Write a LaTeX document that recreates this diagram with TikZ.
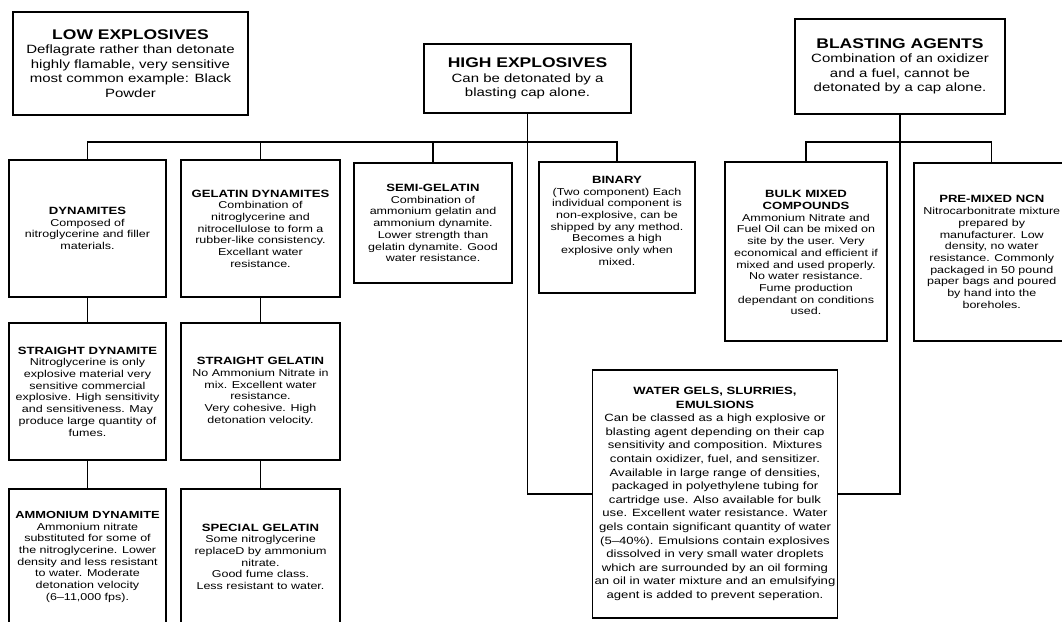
\documentclass[tikz,border=0pt]{standalone}
\usepackage{fontspec}
\setmainfont{Liberation Sans}[FakeStretch=1.25]
\usepackage{tikz}
\tikzstyle{box}=[draw,line width=1.5pt,align=center,inner sep=2pt]
\tikzstyle{bigbox}=[box,font=\fontsize{12}{14.5}\selectfont]
\tikzstyle{smallbox}=[box,font=\fontsize{10}{11.7}\selectfont]
\tikzstyle{line}=[black,line width=1.4pt]

\begin{document}
\begin{tikzpicture}[x=1pt,y=-1pt]
	\useasboundingbox (0,0) rectangle (1062,621);

	% top row
	\node[bigbox,minimum width=235pt,minimum height=103pt] (low) at (130.5,63.5)
		{{\bfseries\fontsize{14}{16}\selectfont LOW EXPLOSIVES}\\
		Deflagrate rather than detonate\\
		highly flamable, very sensitive\\
		most common example:  Black\\
		Powder};
	\node[bigbox,minimum width=207pt,minimum height=69pt] (high) at (527.5,78.5)
		{{\bfseries\fontsize{14}{16}\selectfont HIGH EXPLOSIVES}\\
		Can be detonated by a\\
		blasting cap alone.};
	\node[bigbox,minimum width=210pt,minimum height=95pt] (blast) at (900,66.5)
		{{\bfseries\fontsize{14}{16}\selectfont BLASTING AGENTS}\\
		Combination of an oxidizer\\
		and a fuel, cannot be\\
		detonated by a cap alone.};

	% high explosives
	\node[smallbox,minimum width=157pt,minimum height=137pt] (dyn) at (87.5,228.5)
		{{\bfseries\fontsize{10.5}{11.7}\selectfont DYNAMITES}\\
		Composed of\\
		nitroglycerine and filler\\
		materials.};
	\node[smallbox,minimum width=159pt,minimum height=137pt] (geldyn) at (260.5,228.5)
		{{\bfseries\fontsize{10.5}{11.7}\selectfont GELATIN DYNAMITES}\\
		Combination of\\
		nitroglycerine and\\
		nitrocellulose to form a\\
		rubber-like consistency.\\
		Excellant water\\
		resistance.};
	\node[smallbox,minimum width=158pt,minimum height=120pt] (semi) at (433,223)
		{{\bfseries\fontsize{10.5}{11.7}\selectfont SEMI-GELATIN}\\
		Combination of\\
		ammonium gelatin and\\
		ammonium dynamite.\\
		Lower strength than\\
		gelatin dynamite.  Good\\
		water resistance.};
	\node[smallbox,minimum width=156pt,minimum height=131pt] (binary) at (617,227.5)
		{{\bfseries\fontsize{10.5}{11.7}\selectfont BINARY}\\
		(Two component)  Each\\
		individual component is\\
		non-explosive, can be\\
		shipped by any method.\\
		Becomes a high\\
		explosive only when\\
		mixed.\\[2pt]};

	\node[smallbox,minimum width=157pt,minimum height=137pt] (strdyn) at (87.5,391.5)
		{{\bfseries\fontsize{10.5}{11.7}\selectfont STRAIGHT DYNAMITE}\\
		Nitroglycerine is only\\
		explosive material very\\
		sensitive commercial\\
		explosive.  High sensitivity\\
		and sensitiveness.  May\\
		produce large quantity of\\
		fumes.};
	\node[smallbox,minimum width=159pt,minimum height=137pt] (strgel) at (260.5,391.5)
		{{\bfseries\fontsize{10.5}{11.7}\selectfont STRAIGHT GELATIN}\\
		No Ammonium Nitrate in\\
		mix.  Excellent water\\
		resistance.\\
		Very cohesive.  High\\
		detonation velocity.};
	\node[smallbox,anchor=north,minimum width=157pt,minimum height=136pt] (ammdyn) at (87.5,488)
		{{\bfseries\fontsize{10.3}{11.7}\selectfont AMMONIUM DYNAMITE}\\
		Ammonium nitrate\\
		substituted for some of\\
		the nitroglycerine.  Lower\\
		density and less resistant\\
		to water.  Moderate\\
		detonation velocity\\
		(6--11,000 fps).};
	\node[smallbox,anchor=north,minimum width=159pt,minimum height=136pt] (specgel) at (260.5,488)
		{{\bfseries\fontsize{10.5}{11.7}\selectfont SPECIAL GELATIN}\\
		Some nitroglycerine\\
		replaceD by ammonium\\
		nitrate.\\
		Good fume class.\\
		Less resistant to water.};

	% blasting agents
	\node[smallbox,minimum width=162pt,minimum height=179pt] (bulk) at (806,251.5)
		{\mbox{}\\[-2pt]
		{\bfseries\fontsize{10.5}{11.7}\selectfont BULK MIXED}\\
		{\bfseries\fontsize{10.5}{11.7}\selectfont COMPOUNDS}\\
		Ammonium Nitrate and\\
		Fuel Oil can be mixed on\\
		site by the user.  Very\\
		economical and efficient if\\
		mixed and used properly.\\
		No water resistance.\\
		Fume production\\
		dependant on conditions\\
		used.};
	\node[smallbox,anchor=west,minimum width=156pt,minimum height=178pt] (ncn) at (913,252)
		{{\bfseries\fontsize{10.5}{11.7}\selectfont PRE-MIXED NCN}\\
		Nitrocarbonitrate mixture\\
		prepared by\\
		manufacturer.  Low\\
		density, no water\\
		resistance.  Commonly\\
		packaged in 50 pound\\
		paper bags and poured\\
		by hand into the\\
		boreholes.};

	\node[box,font=\fontsize{10.5}{13.6}\selectfont,minimum width=244pt,minimum height=248pt] (water) at (715,494)
		{{\bfseries WATER GELS, SLURRIES,}\\
		{\bfseries EMULSIONS}\\
		Can be classed as a high explosive or\\
		blasting agent depending on their cap\\
		sensitivity and composition.  Mixtures\\
		contain oxidizer, fuel, and sensitizer.\\
		Available in large range of densities,\\
		packaged in polyethylene tubing for\\
		cartridge use.  Also available for bulk\\
		use.  Excellent water resistance.  Water\\
		gels contain significant quantity of water\\
		(5--40\%).  Emulsions contain explosives\\
		dissolved in very small water droplets\\
		which are surrounded by an oil forming\\
		an oil in water mixture and an emulsifying\\
		agent is added to prevent seperation.};

	%lines
	\coordinate (hjoin) at (527.5,142);
	\coordinate (bjoin) at (900,142);
	\draw[line] (dyn.north) |- (hjoin) -| (binary.north);
	\draw[line] (geldyn.north) -- (geldyn.north |- hjoin);
	\draw[line] (semi.north) -- (semi.north |- hjoin);
	\draw[line] (high.south) |- (water.west);
	\draw[line] (bulk.north) |- (bjoin) -| (ncn.north);
	\draw[line] (blast.south) |- (water.east);
	\draw[line] (dyn) -- (strdyn);
	\draw[line] (strdyn) -- (ammdyn);
	\draw[line] (geldyn) -- (strgel);
	\draw[line] (strgel) -- (specgel);
\end{tikzpicture}
\end{document}
